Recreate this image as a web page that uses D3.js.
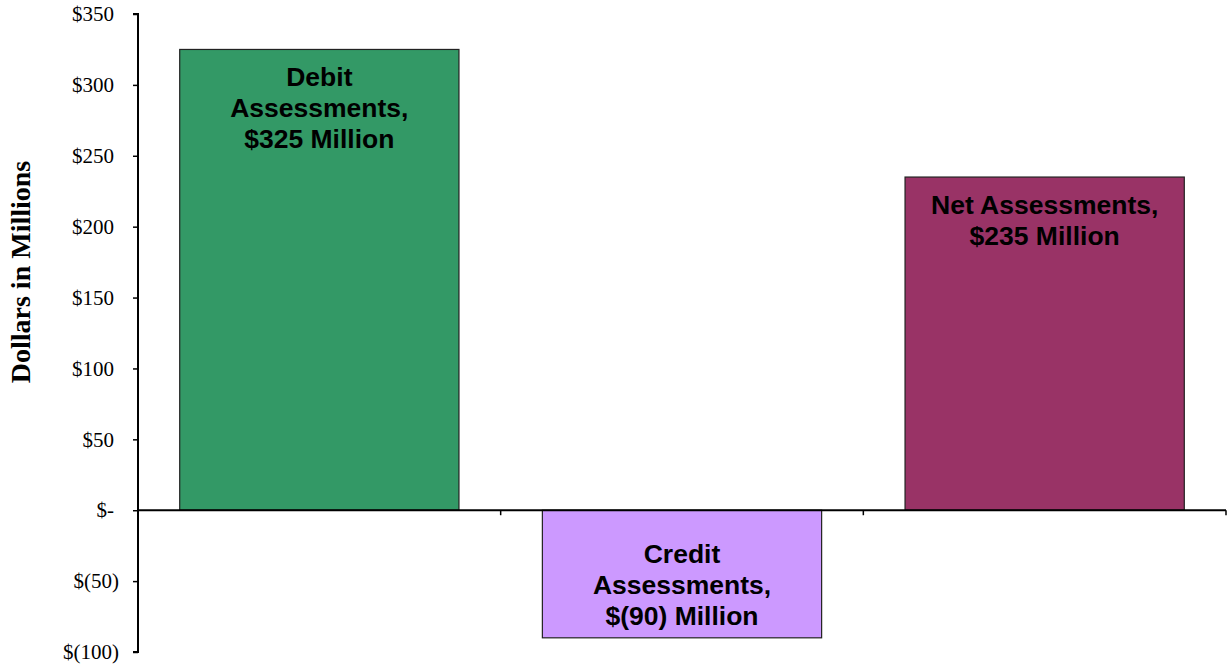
<!DOCTYPE html>
<html><head><meta charset="utf-8">
<script src="https://cdn.jsdelivr.net/npm/d3@7"></script>
<style>body{margin:0;background:#fff}svg{display:block}</style>
</head><body>
<svg id="c" width="1231" height="669"></svg>
<script>
const categories = ["Debit", "Credit", "Net"];
const values = [325, -90, 235];
const labels = [["Debit", "Assessments,", "$325 Million"], ["Credit", "Assessments,", "$(90) Million"], ["Net Assessments,", "$235 Million"]];
const colors = ["#339966", "#CC99FF", "#993366"];
const yTicks = [-100, -50, 0, 50, 100, 150, 200, 250, 300, 350];

const svg = d3.select("#c");
const x0 = 138, x1 = 1226;
const y = d3.scaleLinear().domain([-100, 350]).range([652, 14]);
const x = d3.scaleBand().domain(categories).range([x0, x1]).paddingInner(0.23).paddingOuter(0.115);

const fmt = v => v === 0 ? "$-" : (v < 0 ? "$(" + Math.abs(v) + ")" : "$" + v);

// bars
svg.selectAll("rect.bar").data(values).enter().append("rect")
  .attr("x", (d, i) => x(categories[i]))
  .attr("width", x.bandwidth())
  .attr("y", d => y(Math.max(0, d)))
  .attr("height", d => Math.abs(y(d) - y(0)))
  .attr("fill", (d, i) => colors[i])
  .attr("stroke", "#222").attr("stroke-width", 1.2);

// y axis
const yAxis = d3.axisLeft(y).tickValues(yTicks).tickFormat(fmt).tickSize(5).tickPadding(19);
const gy = svg.append("g").attr("transform", `translate(${x0},0)`).call(yAxis);
gy.select(".domain").attr("stroke", "#000").attr("stroke-width", 2).attr("d", `M-5,${y(350)}H0V${y(-100)}H-5`);
gy.selectAll(".tick line").attr("stroke", "#000").attr("stroke-width", 1.5);
gy.selectAll(".tick text").attr("font-family", "'Liberation Serif','Times New Roman',serif").attr("font-size", 21).attr("fill", "#000")
  .attr("dx", d => d < 0 ? 5 : 0);

// x axis at zero
const xt = [1, 2, 3].map(k => x0 + (x1 - x0) / 3 * k);
svg.append("line").attr("x1", x0).attr("x2", x1).attr("y1", y(0)).attr("y2", y(0)).attr("stroke", "#000").attr("stroke-width", 2);
svg.selectAll("line.xt").data(xt).enter().append("line")
  .attr("x1", d => d).attr("x2", d => d).attr("y1", y(0)).attr("y2", y(0) + 5)
  .attr("stroke", "#000").attr("stroke-width", 1.5);

// labels
const lh = 31;
labels.forEach((lines, i) => {
  const v = values[i];
  const cx = x(categories[i]) + x.bandwidth() / 2;
  let firstCenter;
  if (v >= 0) firstCenter = y(v) + 27;
  else firstCenter = y(v) - 22 - (lines.length - 1) * lh;
  const t = svg.append("text").attr("text-anchor", "middle")
    .attr("font-family", "'Liberation Sans',Arial,sans-serif").attr("font-weight", "bold")
    .attr("font-size", 26.5).attr("fill", "#000");
  lines.forEach((ln, j) => {
    t.append("tspan").attr("x", cx).attr("y", firstCenter + j * lh).attr("dy", "0.36em").text(ln);
  });
});

// y title
svg.append("text").attr("transform", `translate(30,272) rotate(-90)`)
  .attr("text-anchor", "middle").attr("font-family", "'Liberation Serif','Times New Roman',serif")
  .attr("font-weight", "bold").attr("font-size", 28).text("Dollars in Millions");
</script>
</body></html>
